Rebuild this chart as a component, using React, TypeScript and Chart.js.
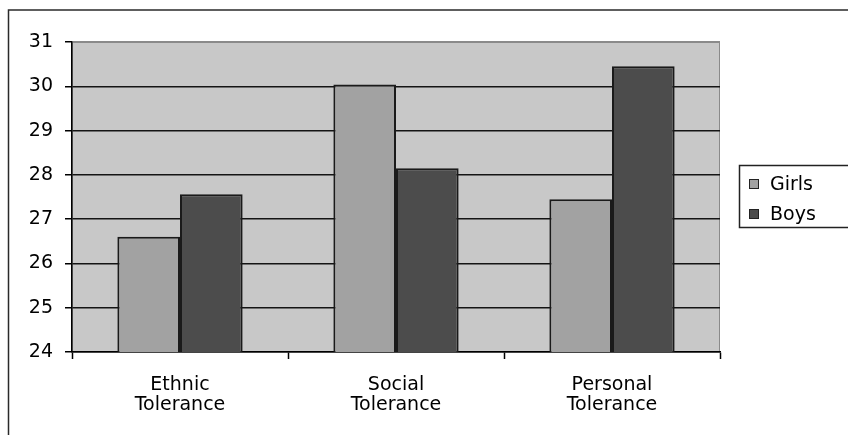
import React, { useEffect, useRef } from "react";
import { Chart, registerables } from "chart.js";

Chart.register(...registerables);

const categories = [
  ["Ethnic", "Tolerance"],
  ["Social", "Tolerance"],
  ["Personal", "Tolerance"],
];
const seriesNames = ["Girls", "Boys"];
const girlsValues = [26.6, 30.04, 27.45];
const boysValues = [27.56, 28.15, 30.45];
const yMin = 24;
const yMax = 31;
const yStep = 1;

const FONT = '"DejaVu Sans", "Liberation Sans", Arial, sans-serif';

const W = 848;
const H = 435;
const AREA = { left: 72, top: 42, right: 720, bottom: 352 };

const bgPlugin = {
  id: "bgPlugin",
  beforeDraw(chart: any) {
    const { ctx, chartArea: a } = chart;
    ctx.save();
    ctx.fillStyle = "#ffffff";
    ctx.fillRect(0, 0, chart.width, chart.height);
    // outer frame (left and top visible)
    ctx.strokeStyle = "#2a2a2a";
    ctx.lineWidth = 1.5;
    ctx.beginPath();
    ctx.moveTo(8.5, chart.height);
    ctx.lineTo(8.5, 10);
    ctx.lineTo(chart.width, 10);
    ctx.stroke();
    // plot area
    ctx.fillStyle = "#c8c8c8";
    ctx.fillRect(a.left, a.top, a.right - a.left, a.bottom - a.top);
    ctx.strokeStyle = "#8a8a8a";
    ctx.lineWidth = 1;
    ctx.strokeRect(a.left + 0.5, a.top + 0.5, a.right - a.left - 1, a.bottom - a.top - 1);
    ctx.restore();
  },
};

const legendPlugin = {
  id: "boxLegend",
  afterDraw(chart: any) {
    const ctx = chart.ctx;
    ctx.save();
    ctx.strokeStyle = "#222";
    ctx.lineWidth = 1.5;
    ctx.strokeRect(739.5, 165.5, 112, 62);
    chart.data.datasets.forEach((ds: any, i: number) => {
      const y = 179 + i * 30;
      ctx.fillStyle = ds.backgroundColor;
      ctx.fillRect(749, y, 10, 10);
      ctx.strokeStyle = "#222";
      ctx.lineWidth = 1;
      ctx.strokeRect(749.5, y + 0.5, 9, 9);
      ctx.fillStyle = "#000";
      ctx.font = `19px ${FONT}`;
      ctx.textBaseline = "alphabetic";
      ctx.textAlign = "left";
      ctx.fillText(ds.label, 770, y + 11);
    });
    ctx.restore();
  },
};

export default function App() {
  const ref = useRef<HTMLCanvasElement | null>(null);

  useEffect(() => {
    if (!ref.current) return;
    const chart = new Chart(ref.current, {
      type: "bar",
      data: {
        labels: categories,
        datasets: [
          {
            label: seriesNames[0],
            data: girlsValues,
            backgroundColor: "#a2a2a2",
            borderColor: "#1a1a1a",
            borderWidth: 2,
            borderSkipped: false,
          },
          {
            label: seriesNames[1],
            data: boysValues,
            backgroundColor: "#4c4c4c",
            borderColor: "#1a1a1a",
            borderWidth: 2,
            borderSkipped: false,
          },
        ],
      },
      options: {
        responsive: false,
        maintainAspectRatio: false,
        animation: false,
        layout: {
          padding: { left: 0, top: AREA.top, right: W - AREA.right, bottom: 0 },
        },
        datasets: {
          bar: { barPercentage: 1, categoryPercentage: 0.58 },
        },
        plugins: {
          legend: { display: false },
          tooltip: { enabled: false },
        },
        scales: {
          x: {
            grid: {
              display: true,
              drawOnChartArea: false,
              drawTicks: true,
              tickLength: 7,
              tickColor: "#000",
              tickWidth: 1.5,
              offset: true,
            },
            border: { display: true, color: "#000", width: 1.5 },
            ticks: {
              color: "#000",
              font: { family: FONT, size: 19, lineHeight: 1.05 },
              padding: 16,
              maxRotation: 0,
              autoSkip: false,
            },
            afterFit(scale: any) {
              scale.height = H - AREA.bottom;
            },
          },
          y: {
            min: yMin,
            max: yMax,
            grid: {
              color: (ctx: any) => (ctx.tick && ctx.tick.value === yMax ? "#8a8a8a" : "#141414"),
              lineWidth: 1.5,
              tickLength: 7,
              tickColor: "#000",
              tickWidth: 1.5,
            },
            border: { display: true, color: "#000", width: 1.5 },
            ticks: {
              stepSize: yStep,
              color: "#000",
              font: { family: FONT, size: 19 },
              padding: 12,
            },
            afterFit(scale: any) {
              scale.width = AREA.left;
            },
          },
        },
      },
      plugins: [bgPlugin, legendPlugin],
    });
    return () => chart.destroy();
  }, []);

  return (
    <div style={{ position: "fixed", left: 0, top: 0, width: W, height: H }}>
      <canvas ref={ref} width={W} height={H} style={{ display: "block" }} />
    </div>
  );
}
